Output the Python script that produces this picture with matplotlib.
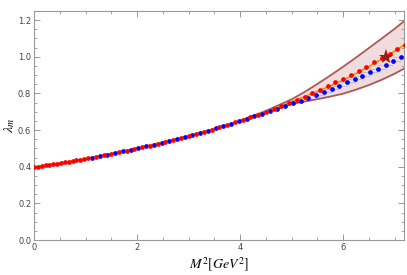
import matplotlib
matplotlib.use("Agg")
import matplotlib.pyplot as plt
from matplotlib.ticker import MultipleLocator

plt.rcParams["mathtext.fontset"] = "stix"

# ---- data ----
red_x = [0, 0.075, 0.15, 0.225, 0.3, 0.375, 0.45, 0.525, 0.6, 0.675, 0.75, 0.825, 0.9, 0.975, 1.05,
         1.2, 1.35, 1.5, 1.65, 1.8, 1.95, 2.1, 2.25, 2.4, 2.55, 2.7, 2.85, 3.0, 3.15, 3.3, 3.45,
         3.6, 3.75, 3.9, 4.05, 4.2, 4.35, 4.5, 4.65, 4.8, 4.95, 5.1, 5.25, 5.4, 5.55, 5.7, 5.85,
         6.0, 6.15, 6.3, 6.45, 6.6, 6.75, 6.9, 7.05, 7.2]
red_y = [0.397, 0.400, 0.404, 0.407, 0.410, 0.414, 0.417, 0.420, 0.424, 0.428, 0.431, 0.435, 0.439, 0.443, 0.446,
         0.454, 0.462, 0.471, 0.479, 0.488, 0.497, 0.506, 0.516, 0.526, 0.536, 0.547, 0.557, 0.568, 0.580, 0.591, 0.603,
         0.616, 0.628, 0.642, 0.655, 0.669, 0.683, 0.698, 0.714, 0.730, 0.747, 0.764, 0.782, 0.801, 0.820, 0.840, 0.861,
         0.881, 0.902, 0.924, 0.946, 0.969, 0.992, 1.016, 1.040, 1.065]

blue_x = [1.125, 1.275, 1.425, 1.575, 1.725, 1.875, 2.025, 2.175, 2.325, 2.475, 2.625, 2.775, 2.925, 3.075,
          3.225, 3.375, 3.525, 3.675, 3.825, 3.975, 4.125, 4.275, 4.425, 4.575, 4.725, 4.875, 5.025, 5.175,
          5.325, 5.475, 5.625, 5.775, 5.925, 6.075, 6.225, 6.375, 6.525, 6.675, 6.825, 6.975, 7.125]
blue_y = [0.450, 0.458, 0.466, 0.475, 0.484, 0.493, 0.502, 0.511, 0.521, 0.531, 0.541, 0.552, 0.563, 0.574,
          0.585, 0.597, 0.609, 0.622, 0.635, 0.648, 0.661, 0.675, 0.689, 0.703, 0.717, 0.731, 0.746, 0.761,
          0.776, 0.792, 0.808, 0.825, 0.842, 0.860, 0.878, 0.897, 0.916, 0.936, 0.956, 0.977, 0.998]

band_x = [4.0, 4.5, 5.0, 5.25, 5.5, 5.75, 6.0, 6.25, 6.5, 6.75, 7.0, 7.25]
band_upper = [0.652, 0.705, 0.768, 0.808, 0.852, 0.898, 0.946, 0.996, 1.048, 1.100, 1.153, 1.210]
band_lower = [0.647, 0.695, 0.742, 0.756, 0.769, 0.783, 0.799, 0.821, 0.846, 0.875, 0.908, 0.946]

orange_x = [0, 1, 2, 3, 4.0, 4.5, 5.0, 5.25, 5.5, 5.75, 6.0, 6.25, 6.5, 6.75, 7.0, 7.25]
orange_y = [0.397, 0.443, 0.502, 0.568, 0.649, 0.700, 0.755, 0.782, 0.811, 0.841, 0.873, 0.909, 0.947, 0.988, 1.031, 1.078]

star_x = [6.83]
star_y = [1.0]

xticks = [0, 2, 4, 6]
yticks = [0.0, 0.2, 0.4, 0.6, 0.8, 1.0, 1.2]

# ---- figure ----
fig = plt.figure(figsize=(4.07, 2.75), dpi=100)
ax = fig.add_axes([0.0835, 0.127, 0.909, 0.833])

ax.fill_between(band_x, band_lower, band_upper, color="#f0dcdc", lw=0, zorder=1)
ax.plot(band_x, band_upper, color="#a65a5a", lw=1.3, zorder=2)
ax.plot(band_x, band_lower, color="#a65a5a", lw=1.3, zorder=2)
ax.plot(orange_x, orange_y, color="#ff8c00", lw=1.3, zorder=3)

err_x = [x for x in blue_x if x > 5.4]
err_y = [y for x, y in zip(blue_x, blue_y) if x > 5.4]
ax.errorbar(err_x, err_y, xerr=0.15, fmt="none", ecolor="#b4c2e4", elinewidth=0.8, zorder=3)

ax.plot(blue_x, blue_y, "o", color="#0000ff", ms=3.4, mew=0, zorder=4)
ax.plot(red_x, red_y, "o", color="#ff0000", ms=3.4, mew=0, zorder=5)
ax.plot(star_x, star_y, "*", color="#9b1b1b", ms=11, mew=0, zorder=6)

ax.set_xlim(0, 7.18)
ax.set_ylim(0, 1.25)
ax.set_xticks(xticks)
ax.set_yticks(yticks)
ax.set_xticklabels([str(t) for t in xticks])
ax.set_yticklabels([f"{t:.1f}" for t in yticks])
ax.xaxis.set_minor_locator(MultipleLocator(0.5))
ax.yaxis.set_minor_locator(MultipleLocator(0.05))
ax.tick_params(which="both", direction="in", top=True, right=True, color="#999999",
               labelsize=6, labelcolor="#444444", pad=2)
ax.tick_params(which="major", length=4, width=0.7)
ax.tick_params(which="minor", length=2, width=0.6)
for s in ax.spines.values():
    s.set_color("#999999")
    s.set_linewidth(0.8)

ax.set_xlabel(r"$M^2[GeV^2]$", fontsize=10, labelpad=3)
ax.set_ylabel(r"$\lambda_m$", fontsize=10, labelpad=1)

fig.savefig("out.png", dpi=100)
